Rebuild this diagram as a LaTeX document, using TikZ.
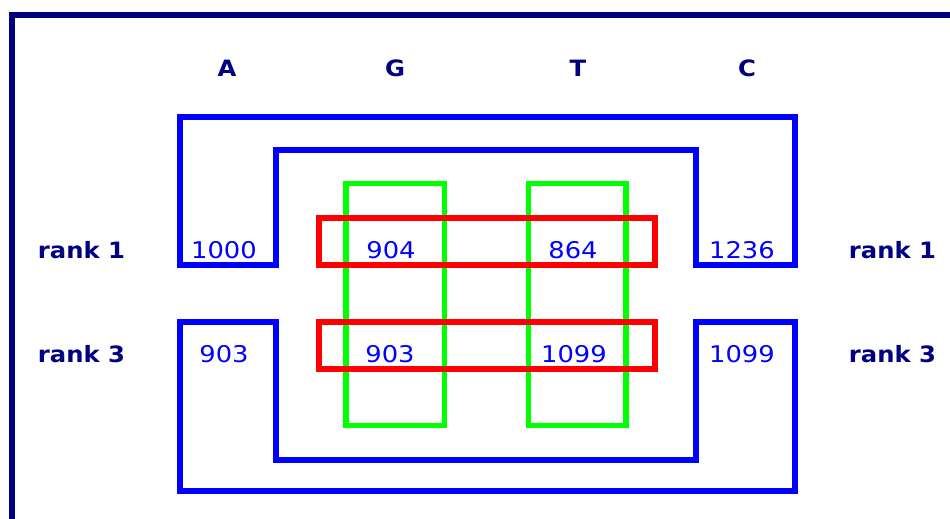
\documentclass[tikz,border=0pt]{standalone}
\usepackage{fontspec}
\newfontfamily\numfont[FakeStretch=1.12]{DejaVu Sans}
\newfontfamily\labfont[FakeStretch=1.08]{DejaVu Sans Bold}
\definecolor{navy}{RGB}{0,0,128}
\definecolor{pureblue}{RGB}{0,0,255}
\definecolor{puregreen}{RGB}{0,255,0}
\definecolor{purered}{RGB}{255,0,0}
\tikzset{
  frameline/.style={draw=navy, line width=6pt},
  blueshape/.style={draw=pureblue, line width=6pt, line join=miter},
  greenbox/.style={draw=puregreen, line width=5.5pt},
  redbox/.style={draw=purered, line width=6pt},
  num/.style={anchor=base, inner sep=0pt, text=pureblue, font=\numfont\fontsize{23}{26}\selectfont},
  lab/.style={anchor=base, inner sep=0pt, text=navy, font=\labfont\fontsize{22.5}{26}\selectfont}
}
\begin{document}
\begin{tikzpicture}[x=1pt, y=-1pt]
\useasboundingbox (0,0) rectangle (950,519);
\begin{scope}
\clip (0,0) rectangle (950,519);
% outer frame (runs off the right and bottom)
\draw[frameline] (12,540) -- (12,15) -- (980,15);
\end{scope}

% upper blue shape
\draw[blueshape] (180,265) -- (180,117) -- (795,117) -- (795,265) -- (695.5,265)
  -- (695.5,149.5) -- (276,149.5) -- (276,265) -- cycle;
% lower blue shape
\draw[blueshape] (180,321.5) -- (180,491) -- (795,491) -- (795,321.5) -- (695.5,321.5)
  -- (695.5,460) -- (276,460) -- (276,321.5) -- cycle;

% green columns
\draw[greenbox] (346,183.5) rectangle (444.5,425.5);
\draw[greenbox] (528.5,183.5) rectangle (626,425.5);

% red rows
\draw[redbox] (319,218) rectangle (654.5,265);
\draw[redbox] (319,321.5) rectangle (654.5,369);

% column headings
\node[lab] (hA) at (227,77) {A};
\node[lab] (hG) at (395,77) {G};
\node[lab] (hT) at (578,77) {T};
\node[lab] (hC) at (747,77) {C};

% row labels
\node[lab] (r1l) at (81.5,258.5) {rank 1};
\node[lab] (r3l) at (81.5,362) {rank 3};
\node[lab] (r1r) at (892.5,258.5) {rank 1};
\node[lab] (r3r) at (892.5,362) {rank 3};

% values
\node[num] (v1A) at (224,258) {1000};
\node[num] (v1G) at (391,258) {904};
\node[num] (v1T) at (573,258) {864};
\node[num] (v1C) at (742,258) {1236};
\node[num] (v3A) at (224,362) {903};
\node[num] (v3G) at (390,362) {903};
\node[num] (v3T) at (574,362) {1099};
\node[num] (v3C) at (742,362) {1099};
\end{tikzpicture}
\end{document}
